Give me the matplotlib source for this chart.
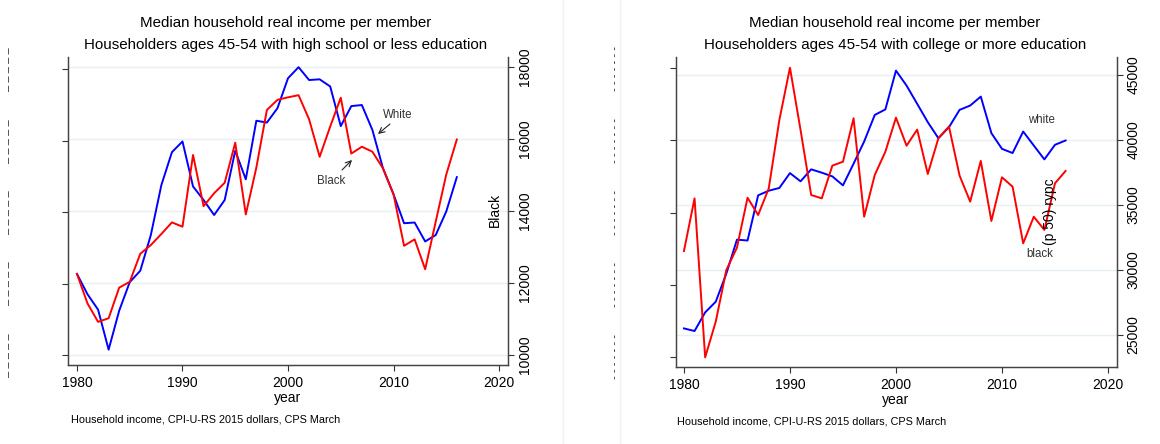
import matplotlib
matplotlib.use("Agg")
import matplotlib.pyplot as plt
from matplotlib.transforms import blended_transform_factory

plt.rcParams['font.family'] = ['Liberation Sans', 'DejaVu Sans']

# data
years = list(range(1980, 2017))

# high school or less: white on the (unlabelled) left axis, black on the right axis
hs_white = [22270, 21700, 21270, 20150, 21240, 22040, 22360, 23360, 24760, 25680,
            25980, 24720, 24340, 23920, 24340, 25720, 24920, 26560, 26510, 26910,
            27750, 28060, 27700, 27720, 27520, 26410, 26970, 27000, 26300, 25230,
            24500, 23690, 23710, 23180, 23360, 24020, 24980]
hs_black = [12250, 11430, 10920, 11020, 11870, 12030, 12810, 13050, 13360, 13680,
            13560, 15550, 14130, 14490, 14780, 15890, 13900, 15200, 16800, 17080,
            17150, 17210, 16540, 15500, 16340, 17140, 15590, 15780, 15640, 15180,
            14460, 13030, 13210, 12380, 13700, 15010, 15980]

# college or more
col_white = [41980, 41800, 43090, 43830, 45780, 48130, 48070, 51200, 51520, 51710,
             52740, 52170, 53000, 52770, 52510, 51890, 53390, 54930, 56770, 57150,
             59840, 58800, 57540, 56270, 55160, 55920, 57120, 57420, 58040, 55510,
             54420, 54130, 55620, 54650, 53690, 54700, 55000]
col_black = [31460, 35510, 23280, 26030, 30000, 31720, 35560, 34230, 36280, 41540,
             45560, 40770, 35770, 35510, 38030, 38330, 41670, 34100, 37310, 39100,
             41720, 39560, 40800, 37390, 40130, 41030, 37260, 35260, 38390, 33770,
             37130, 36410, 32050, 34100, 33080, 36670, 37620]

hs_left_ticks = [20000, 22000, 24000, 26000, 28000]
hs_right_ticks = [10000, 12000, 14000, 16000, 18000]
col_left_ticks = [40000, 45000, 50000, 55000, 60000]
col_right_ticks = [25000, 30000, 35000, 40000, 45000]
x_ticks = [1980, 1990, 2000, 2010, 2020]

W, H = 1160, 444
fig = plt.figure(figsize=(W / 100, H / 100), dpi=100)


def px(x, y):
    return x / W, 1 - y / H


def panel(rect, white, black, lticks, lylim, rticks, rylim, xlim, dash, dash_x):
    ax = fig.add_axes(rect)
    ax2 = ax.twinx()
    # grid lines follow the right axis but sit under both lines
    tr = blended_transform_factory(ax.transAxes, ax2.transData)
    ax2.set_ylim(*rylim)
    for t in rticks:
        ax.plot([0, 1], [t, t], transform=tr, color='#e6eff1', lw=1.0, zorder=0)
    ax.plot(years, white, color='#0000ff', lw=1.4)
    ax2.plot(years, black, color='#ff0000', lw=1.4)
    ax.set_xlim(*xlim)
    ax.set_xticks(x_ticks)
    ax.set_ylim(*lylim)
    ax.set_yticks(lticks)
    ax.set_yticklabels([])
    ax.tick_params(axis='y', length=4, color='#333333')
    ax.tick_params(axis='x', length=4, labelsize=10, pad=4, color='#333333')
    ax2.set_yticks(rticks)
    ax2.tick_params(axis='y', length=4, labelsize=10, labelrotation=90, pad=3,
                    color='#333333')
    for lab in ax2.get_yticklabels():
        lab.set_va('center')
    # left axis labels come out as dashes in the original
    ltr = blended_transform_factory(fig.transFigure, ax.transData)
    for t in lticks:
        fig.text(dash_x / W, t, dash, transform=ltr, rotation=90, ha='center',
                 va='center', fontsize=8, color='#222222')
    for a in (ax, ax2):
        a.spines['top'].set_visible(False)
        for s in ('left', 'right', 'bottom'):
            a.spines[s].set_color('#444444')
            a.spines[s].set_linewidth(0.9)
    ax.set_facecolor('none')
    return ax, ax2


# left panel
r1 = [68 / W, 1 - 365 / H, 440 / W, 308 / H]
panel(r1, hs_white, hs_black, hs_left_ticks, (19720, 28345),
      hs_right_ticks, (9723, 18269), (1979.15, 2020.85), '– – – – –', 9)

# right panel
r2 = [676 / W, 1 - 367 / H, 441 / W, 310 / H]
panel(r2, col_white, col_black, col_left_ticks, (39307, 60783),
      col_right_ticks, (22538, 46385), (1979.25, 2020.85),
      '- - - - - - -', 615)

# titles
fig.text(*px(286, 23), 'Median household real income per member',
         ha='center', va='center', fontsize=10.9)
fig.text(*px(286, 45), 'Householders ages 45-54 with high school or less education',
         ha='center', va='center', fontsize=10.9)
fig.text(*px(895, 23), 'Median household real income per member',
         ha='center', va='center', fontsize=10.9)
fig.text(*px(895, 45), 'Householders ages 45-54 with college or more education',
         ha='center', va='center', fontsize=10.9)

# axis labels
fig.text(*px(288, 398), 'year', ha='center', va='center', fontsize=10)
fig.text(*px(896, 400), 'year', ha='center', va='center', fontsize=10)
fig.text(*px(495, 210), 'Black', rotation=90, ha='center', va='center', fontsize=10)
fig.text(*px(1050, 212), '(p 50) rypc', rotation=90, ha='center', va='center',
         fontsize=10)

# footnotes
fig.text(*px(71, 419), 'Household income, CPI-U-RS 2015 dollars, CPS March',
         ha='left', va='center', fontsize=7.8)
fig.text(*px(677, 421), 'Household income, CPI-U-RS 2015 dollars, CPS March',
         ha='left', va='center', fontsize=7.8)

# labels inside the plots
arrow = dict(arrowstyle='->', color='#222222', lw=0.8, shrinkA=0, shrinkB=0)
fig.text(*px(398, 115), 'White', ha='center', va='center', fontsize=8.3, color='#333333')
plt.annotate('', xy=px(378, 134), xytext=px(390, 124), xycoords='figure fraction',
             arrowprops=arrow)
fig.text(*px(331, 181), 'Black', ha='center', va='center', fontsize=8.3, color='#333333')
plt.annotate('', xy=px(352, 160), xytext=px(342, 170), xycoords='figure fraction',
             arrowprops=arrow)
fig.text(*px(1041, 120), 'white', ha='center', va='center', fontsize=8.3, color='#333333')
fig.text(*px(1040, 254), 'black', ha='center', va='center', fontsize=8.3, color='#333333')

# faint borders of the two pasted images
fig.add_artist(plt.Line2D([563 / W, 563 / W], [0, 1], color='#f0f0f0', lw=1))
fig.add_artist(plt.Line2D([620 / W, 620 / W], [0, 1], color='#f0f0f0', lw=1))

fig.savefig('out.png', dpi=100)
